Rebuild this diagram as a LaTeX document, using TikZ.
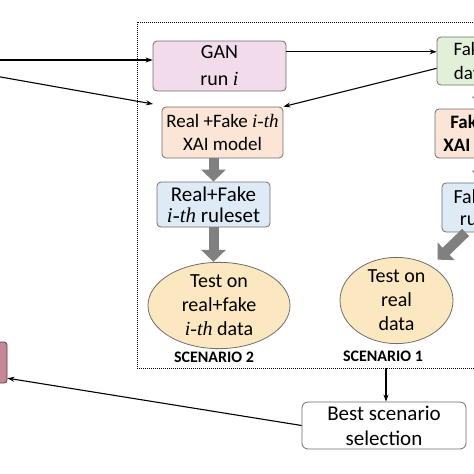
\documentclass[tikz,border=0pt]{standalone}
\usepackage{fontspec}
\setmainfont{Carlito}
\newfontfamily\serifit{Liberation Serif}
\usetikzlibrary{arrows.meta,shapes.geometric}

\definecolor{ganpink}{RGB}{242,220,235}
\definecolor{xaiorange}{RGB}{251,229,214}
\definecolor{ruleblue}{RGB}{222,235,247}
\definecolor{datagreen}{RGB}{226,240,217}
\definecolor{testyellow}{RGB}{251,232,192}
\definecolor{outred}{RGB}{196,136,152}
\definecolor{outborder}{RGB}{110,50,70}
\definecolor{bordergray}{RGB}{110,110,110}
\definecolor{arrowgray}{RGB}{128,128,128}

\newcommand{\ith}{{\serifit\itshape i-th}}

\begin{document}
\begin{tikzpicture}[x=1pt, y=-1pt,
  every node/.style={inner sep=0pt, align=center},
  stepbox/.style={draw=bordergray, rounded corners=4pt, line width=0.8pt},
  testell/.style={ellipse, draw=bordergray, fill=testyellow, line width=0.8pt,
    font=\fontsize{20}{24}\selectfont},
  scen/.style={font=\bfseries\fontsize{16}{16}\selectfont},
  link/.style={-{Stealth[length=7pt,width=5pt]}, line width=1.1pt},
  fatarrow/.style={draw=arrowgray, line width=10pt,
    -{Triangle[length=12pt,width=24pt]}}]
\useasboundingbox (0,0) rectangle (474,474);
\clip (0,0) rectangle (474,474);
%\draw[very thin, gray] (0,0) grid[step=50] (474,474);

% scenario 2 column
\node[stepbox, fill=ganpink, minimum width=133pt, minimum height=50pt,
  font=\fontsize{20}{27}\selectfont] (gan) at (219.5,66) {GAN\\run {\serifit\itshape i}};
\node[stepbox, fill=xaiorange, minimum width=121pt, minimum height=51pt,
  font=\fontsize{19}{23}\selectfont] (xaimix) at (222.5,132.5) {Real +Fake \ith\\XAI model};
\node[stepbox, fill=ruleblue, minimum width=113pt, minimum height=45pt,
  font=\fontsize{21}{21}\selectfont] (rulemix) at (213.5,204.5) {Real+Fake\\\ith\ ruleset};
\node[testell, minimum width=142pt, minimum height=81pt] (testmix) at (219,305.5)
  {Test on\\real+fake\\\ith\ data};
\node[scen] (scentwo) at (214,357) {SCENARIO 2};

% scenario 1 column
\node[stepbox, fill=datagreen, minimum width=68pt, minimum height=48pt,
  font=\fontsize{19}{24}\selectfont] (fakedata) at (471,61) {Fake\\data};
\node[stepbox, fill=xaiorange, minimum width=98pt, minimum height=49pt,
  font=\bfseries\fontsize{19}{23}\selectfont] (xaifake) at (484,133.5) {Fake \ith\\XAI model};
\node[stepbox, fill=ruleblue, minimum width=92pt, minimum height=49pt,
  font=\fontsize{20}{22}\selectfont] (rulefake) at (488,207.5) {Fake \ith\\ruleset};
\node[testell, minimum width=113pt, minimum height=79pt] (testreal) at (396.5,300.5)
  {Test on\\real\\data};
\node[scen] (scenone) at (383,356) {SCENARIO 1};

% selection and output
\node[stepbox, fill=white, rounded corners=6pt, minimum width=164pt, minimum height=47pt,
  font=\fontsize{21}{25}\selectfont] (best) at (384,425.5) {Best scenario\\selection};
\node[draw=outborder, fill=outred, rounded corners=3pt, line width=0.8pt,
  minimum width=44pt, minimum height=41pt] (outbox) at (-15,362.5) {};

% dotted frame
\draw[densely dotted, line width=1pt] (137,22) rectangle (500,368);
\coordinate (framebot) at (386,368);
\coordinate (srcgan) at (-5,60);
\coordinate (srcxai) at (-5,76);
\coordinate (xaientry) at (153,104);

% connectors
\draw[link] (srcgan) -- (srcgan -| gan.west);
\draw[link] (srcxai) -- (xaientry);
\draw[link] (gan.12) -- (gan.12 -| fakedata.west);
\draw[link] (fakedata.192) -- (xaimix.north east);
\draw[link] (framebot) -- (framebot |- best.north);
\draw[link] (best.west) -- (outbox.-35);

% gray block arrows
\draw[fatarrow] (xaimix.south -| rulemix.north) -- (rulemix.north);
\draw[fatarrow] (rulemix.south) -- (rulemix.south |- testmix.north);
\draw[fatarrow] (fakedata.south -| xaifake.north) -- (xaifake.north);
\draw[fatarrow] (xaifake.south) -- (xaifake.south |- rulefake.north);
\draw[fatarrow, shorten >=9pt] (rulefake.228) -- (testreal.45);
\end{tikzpicture}
\end{document}
